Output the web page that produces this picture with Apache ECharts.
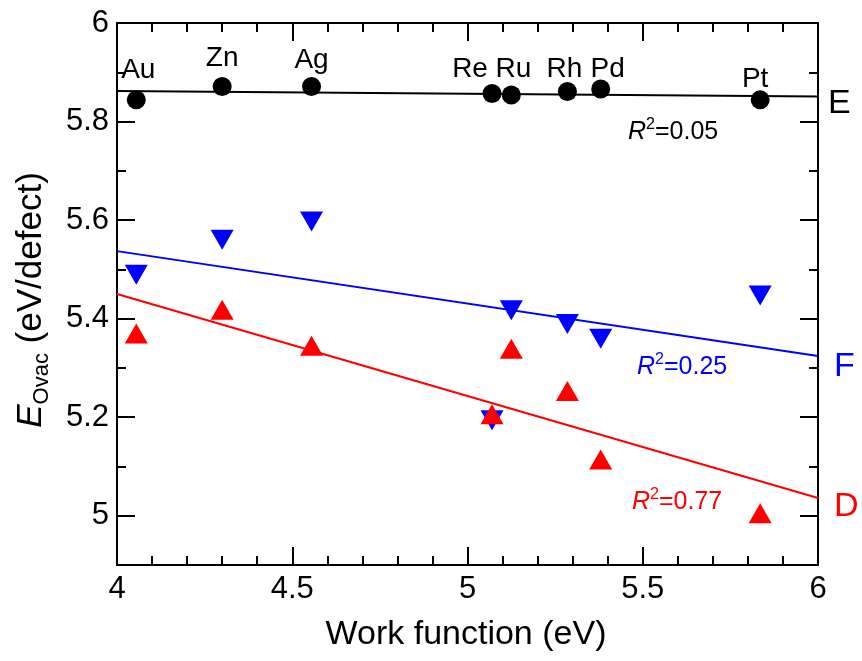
<!DOCTYPE html>
<html>
<head>
<meta charset="utf-8">
<script src="https://cdn.jsdelivr.net/npm/echarts@6/dist/echarts.min.js"></script>
<style>
  html, body { margin: 0; padding: 0; background: #ffffff; }
  #chart { width: 862px; height: 661px; }
</style>
</head>
<body>
<div id="chart"></div>
<script>
// Metal dopants and their work functions (eV)
const metals = ['Au', 'Zn', 'Ag', 'Re', 'Ru', 'Rh', 'Pd', 'Pt'];
const workFunction = [4.055, 4.30, 4.555, 5.07, 5.125, 5.285, 5.38, 5.835];

// Oxygen vacancy formation energies (eV/defect) for sites E, F and D
const energyE = [5.844, 5.871, 5.871, 5.857, 5.854, 5.861, 5.866, 5.844];
const energyF = [5.489, 5.560, 5.597, 5.194, 5.417, 5.389, 5.359, 5.447];
const energyD = [5.370, 5.418, 5.345, 5.206, 5.339, 5.253, 5.114, 5.005];

// Linear fits evaluated at the ends of the x range
const fitX = [4, 6];
const fitE = [5.862, 5.851];
const fitF = [5.537, 5.324];
const fitD = [5.450, 5.036];

// Coefficients of determination for each fit
const r2E = '0.05';
const r2F = '0.25';
const r2D = '0.77';

// Axis ticks
const xMin = 4, xMax = 6, xStep = 0.5;
const yMin = 4.9, yMax = 6;
const yTicks = [5, 5.2, 5.4, 5.6, 5.8, 6];
const yMinorTicks = [5.1, 5.3, 5.5, 5.7, 5.9];

const FONT = "'Liberation Sans', Arial, Helvetica, sans-serif";
const BLACK = '#000000', BLUE = '#0000ff', RED = '#ff0000';

// Per-label nudges for the metal names above the E points
const labelNudge = [[2, -1], [0, 0], [0, 2], [-22, 4], [2, 3], [-3, 6], [7, 9], [-5, 8]];

const pairs = (xs, ys) => xs.map((x, i) => [x, ys[i]]);

const chart = echarts.init(document.getElementById('chart'), null, { renderer: 'canvas' });

const axisLineStyle = { color: BLACK, width: 2 };

function xAxisDef(position, showLabels) {
  return {
    type: 'value', position: position, min: xMin, max: xMax, interval: xStep,
    axisLine: { show: true, onZero: false, lineStyle: axisLineStyle },
    axisTick: { show: true, inside: true, length: 18, lineStyle: { color: BLACK, width: 2 } },
    minorTick: { show: true, splitNumber: 5, length: 9, lineStyle: { color: BLACK, width: 2 } },
    axisLabel: { show: showLabels, color: BLACK, fontSize: 31, fontFamily: FONT, margin: 9 },
    splitLine: { show: false }, minorSplitLine: { show: false }
  };
}

function yAxisDef(position, values, len, showLabels, showLine) {
  return {
    type: 'value', position: position, min: yMin, max: yMax,
    axisLine: { show: showLine, onZero: false, lineStyle: axisLineStyle },
    axisTick: { show: true, inside: true, length: len, customValues: values,
                lineStyle: { color: BLACK, width: 2 } },
    axisLabel: { show: showLabels, customValues: values, color: BLACK, fontSize: 31,
                 fontFamily: FONT, margin: 8 },
    splitLine: { show: false }
  };
}

function r2Text(x, y, value, color) {
  return {
    type: 'text', left: x, top: y - 15, z: 50,
    style: {
      text: '{i|R}{s|2}{n|=' + value + '}',
      fill: color,
      rich: {
        i: { fontSize: 25, fontStyle: 'italic', fontFamily: FONT, fill: color, lineHeight: 30 },
        s: { fontSize: 16, fontFamily: FONT, fill: color, lineHeight: 16, verticalAlign: 'top' },
        n: { fontSize: 25, fontFamily: FONT, fill: color, lineHeight: 30 }
      }
    }
  };
}

function sideText(x, y, txt, color) {
  return {
    type: 'text', left: x, top: y - 19, z: 50,
    style: { text: txt, fill: color, fontSize: 34, fontFamily: FONT, lineHeight: 38 }
  };
}

const option = {
  animation: false,
  backgroundColor: '#ffffff',
  grid: { left: 117, right: 44, top: 23, bottom: 96, containLabel: false },
  xAxis: [
    xAxisDef('bottom', true),
    xAxisDef('top', false)
  ],
  yAxis: [
    yAxisDef('left', yTicks, 18, true, true),
    yAxisDef('left', yMinorTicks, 9, false, false),
    yAxisDef('right', yTicks, 18, false, true),
    yAxisDef('right', yMinorTicks, 9, false, false)
  ],
  series: [
    {
      name: 'fit F', type: 'line', data: pairs(fitX, fitF), symbol: 'none',
      lineStyle: { color: BLUE, width: 2 }, z: 2
    },
    {
      name: 'fit D', type: 'line', data: pairs(fitX, fitD), symbol: 'none',
      lineStyle: { color: RED, width: 2 }, z: 2
    },
    {
      name: 'fit E', type: 'line', data: pairs(fitX, fitE), symbol: 'none',
      lineStyle: { color: BLACK, width: 2 }, z: 2
    },
    {
      name: 'F', type: 'scatter', data: pairs(workFunction, energyF),
      symbol: 'triangle', symbolRotate: 180, symbolSize: [23, 20],
      itemStyle: { color: BLUE, opacity: 1 }, z: 3
    },
    {
      name: 'D', type: 'scatter', data: pairs(workFunction, energyD),
      symbol: 'triangle', symbolSize: [23, 20],
      itemStyle: { color: RED, opacity: 1 }, z: 4
    },
    {
      name: 'E', type: 'scatter',
      data: workFunction.map((x, i) => ({
        value: [x, energyE[i]],
        name: metals[i],
        label: { offset: labelNudge[i] }
      })),
      symbol: 'circle', symbolSize: 19,
      itemStyle: { color: BLACK, opacity: 1 }, z: 5,
      label: {
        show: true, position: 'top', distance: 5,
        formatter: p => p.name,
        color: BLACK, fontSize: 28, fontFamily: FONT
      }
    }
  ],
  graphic: [
    // y-axis title
    {
      type: 'text', x: 31, y: 300, rotation: Math.PI / 2, z: 50,
      style: {
        text: '{e|E}{s|Ovac}{n| (eV/defect)}',
        align: 'center', verticalAlign: 'middle',
        rich: {
          e: { fontSize: 35, fontStyle: 'italic', fontFamily: FONT, fill: BLACK, lineHeight: 44 },
          s: { fontSize: 22, fontFamily: FONT, fill: BLACK, lineHeight: 22, verticalAlign: 'bottom' },
          n: { fontSize: 35, fontFamily: FONT, fill: BLACK, lineHeight: 44 }
        }
      }
    },
    // x-axis title
    {
      type: 'text', x: 466, y: 635, z: 50,
      style: {
        text: 'Work function (eV)', align: 'center', verticalAlign: 'middle',
        fontSize: 34, fontFamily: FONT, fill: BLACK
      }
    },
    r2Text(628, 132, r2E, BLACK),
    r2Text(637, 367, r2F, BLUE),
    r2Text(632, 502, r2D, RED),
    sideText(828, 104, 'E', BLACK),
    sideText(834, 367, 'F', BLUE),
    sideText(834, 507, 'D', RED)
  ]
};

chart.setOption(option);
</script>
</body>
</html>
